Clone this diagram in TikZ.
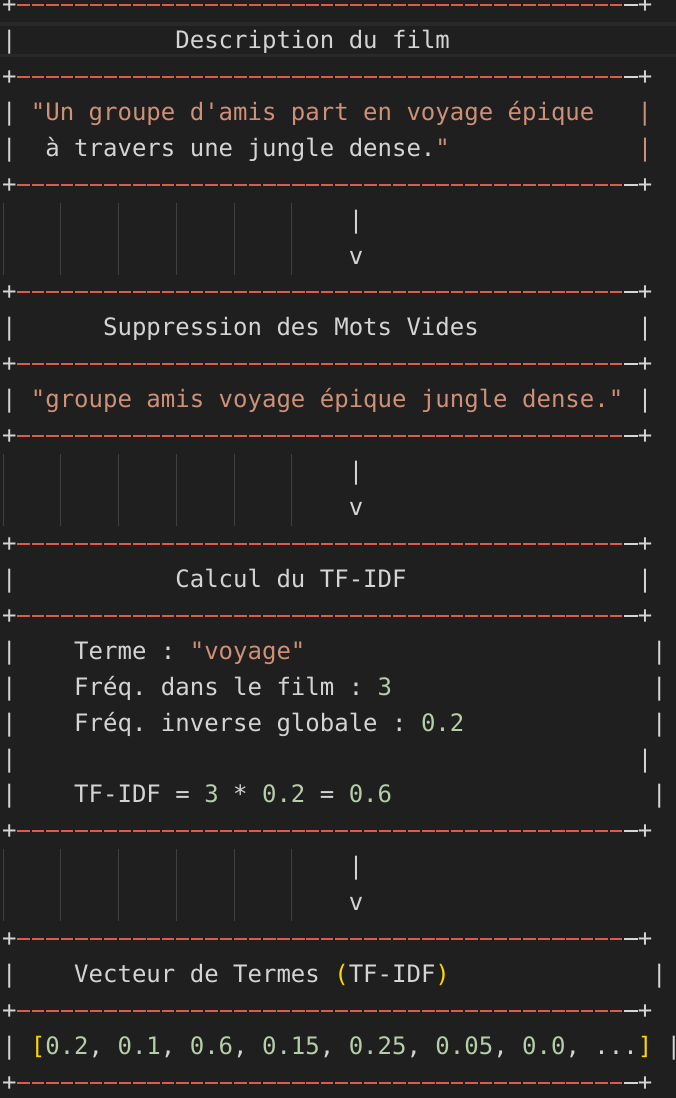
\documentclass[tikz,border=0pt]{standalone}
\usepackage{fontspec}
\setmonofont{DejaVu Sans Mono}
\usetikzlibrary{calc}
\definecolor{bg}{HTML}{1F1F1F}
\definecolor{band}{HTML}{292929}
\definecolor{fg}{HTML}{D4D4D4}
\definecolor{str}{HTML}{CE9178}
\definecolor{num}{HTML}{B5CEA8}
\definecolor{brk}{HTML}{FFD700}
\definecolor{rul}{HTML}{DE5A4E}
\definecolor{guide}{HTML}{404040}
\newlength{\cw}\setlength{\cw}{14.449pt}
\newcommand{\sk}[1]{\hspace*{#1\cw}}
\newcommand{\tstr}[1]{\textcolor{str}{#1}}
\newcommand{\tnum}[1]{\textcolor{num}{#1}}
\newcommand{\tbrk}[1]{\textcolor{brk}{#1}}
\tikzset{
  txt/.style={anchor=base west, inner sep=0pt, outer sep=0pt, text=fg,
    font=\ttfamily\fontsize{24pt}{36pt}\selectfont\frenchspacing},
  rulered/.style={draw=rul, line width=2pt, dash pattern=on 12.6pt off 1.849pt, dash phase=13.524pt},
  rulegray/.style={draw=fg, line width=2pt},
  guide/.style={draw=guide, line width=1pt},
}
\newcommand{\rowtxt}[3]{\node[txt] (#1) at (2,{-(5+#2*35.93)-7.5}) {#3};}
\newcommand{\border}[2]{%
  \node[txt] (#1L) at (2,{-(5+#2*35.93)-7.5}) {+};
  \node[txt] (#1R) at ({2+44*14.449},{-(5+#2*35.93)-7.5}) {+};
  \coordinate (#1c) at (0,{-(5+#2*35.93)});
  \draw[rulered] (#1L.east |- #1c) -- ($(#1R.west |- #1c)+(-14.449,0)$);
  \draw[rulegray] ($(#1R.west |- #1c)+(-13.55,0)$) -- (#1R.west |- #1c);
}
\newcommand{\arrowpair}[2]{%
  \foreach \c in {0,4,8,12,16,20}{
    \draw[guide] ({3+\c*14.449},{-(5+#2*35.93)+18}) -- ({3+\c*14.449},{-(5+(#2+1)*35.93)-18});
  }
  \node[txt] (#1s) at ({2+24*14.449},{-(5+#2*35.93)-7.5}) {|};
  \node[txt] (#1v) at ({2+24*14.449},{-(5+(#2+1)*35.93)-7.5}) {v};
}
\begin{document}
\begin{tikzpicture}[x=1pt,y=1pt]
\useasboundingbox (0,0) rectangle (676,-1098);
\clip (0,0) rectangle (676,-1098);
\fill[bg] (0,0) rectangle (676,-1098);
% current line highlight
\fill[band] (0,-21.5) rectangle (676,-25.5);
\fill[band] (0,-53.5) rectangle (676,-57);

% Box 1
\border{b0}{0}
\rowtxt{r1}{1}{|\sk{11}Description du film}
\border{b2}{2}
\rowtxt{r3}{3}{|\sk{1}\tstr{"Un groupe d'amis part en voyage épique\sk{3}|}}
\rowtxt{r4}{4}{|\sk{2}à travers une jungle dense.\tstr{"\sk{13}|}}
\border{b5}{5}
\arrowpair{a1}{6}

% Box 2
\border{b8}{8}
\rowtxt{r9}{9}{|\sk{6}Suppression des Mots Vides\sk{11}|}
\border{b10}{10}
\rowtxt{r11}{11}{|\sk{1}\tstr{"groupe amis voyage épique jungle dense."}\sk{1}|}
\border{b12}{12}
\arrowpair{a2}{13}

% Box 3
\border{b15}{15}
\rowtxt{r16}{16}{|\sk{11}Calcul du TF-IDF\sk{16}|}
\border{b17}{17}
\rowtxt{r18}{18}{|\sk{4}Terme : \tstr{"voyage"}\sk{24}|}
\rowtxt{r19}{19}{|\sk{4}Fréq. dans le film : \tnum{3}\sk{18}|}
\rowtxt{r20}{20}{|\sk{4}Fréq. inverse globale : \tnum{0.2}\sk{13}|}
\rowtxt{r21}{21}{|\sk{43}|}
\rowtxt{r22}{22}{|\sk{4}TF-IDF = \tnum{3} * \tnum{0.2} = \tnum{0.6}\sk{18}|}
\border{b23}{23}
\arrowpair{a3}{24}

% Box 4
\border{b26}{26}
\rowtxt{r27}{27}{|\sk{4}Vecteur de Termes \tbrk{(}TF-IDF\tbrk{)}\sk{14}|}
\border{b28}{28}
\rowtxt{r29}{29}{|\sk{1}\tbrk{[}\tnum{0.2}, \tnum{0.1}, \tnum{0.6}, \tnum{0.15}, \tnum{0.25}, \tnum{0.05}, \tnum{0.0}, ...\tbrk{]}\sk{1}|}
\border{b30}{30}
\end{tikzpicture}
\end{document}
